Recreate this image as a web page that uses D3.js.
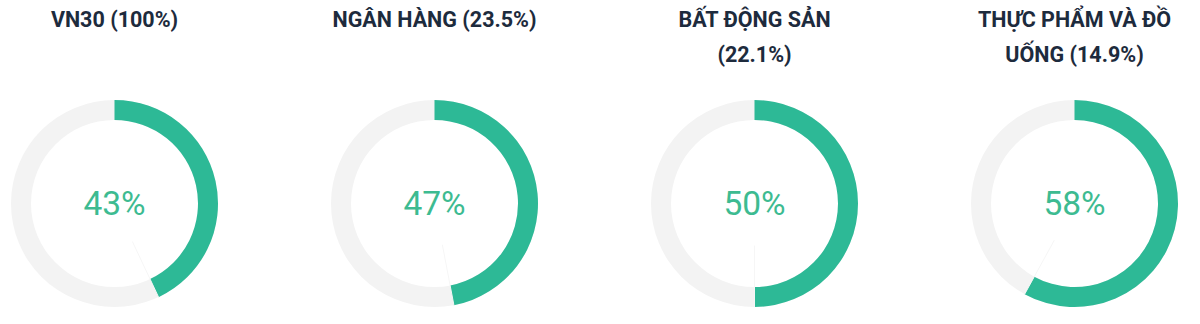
<!DOCTYPE html>
<html>
<head>
<meta charset="utf-8">
<script src="https://cdn.jsdelivr.net/npm/d3@7"></script>
<style>
    body { margin: 0; background: #fff; }
    svg { display: block; }
</style>
</head>
<body>
<div id="chart"></div>
<script>
// chart data
var titles = ["VN30 (100%)", "NGÂN HÀNG (23.5%)", "BẤT ĐỘNG SẢN (22.1%)", "THỰC PHẨM VÀ ĐỒ UỐNG (14.9%)"];
var percents = [43, 47, 50, 58];

var width = 1200, height = 324;
var outerR = 103.5, innerR = 83.5;
var cy = 203.5;

var svg = d3.select("#chart")
    .append("svg")
    .attr("width", width)
    .attr("height", height);

// one gauge per category, centers spread evenly
var x = d3.scalePoint()
    .domain(titles)
    .range([114.5, 1074.5]);

var angle = d3.scaleLinear()
    .domain([0, 100])
    .range([0, 2 * Math.PI]);

var arc = d3.arc()
    .innerRadius(innerR)
    .outerRadius(outerR)
    .startAngle(0);

var data = titles.map(function(t, i){ return { title: t, value: percents[i] }; });

var g = svg.selectAll(".gauge")
    .data(data)
    .join("g")
    .attr("class", "gauge")
    .attr("transform", function(d){ return `translate(${x(d.title)},0)`; });

// title, wrapped at ~220px
g.append("text")
    .attr("class", "title")
    .attr("text-anchor", "middle")
    .attr("font-family", "Roboto, sans-serif")
    .attr("font-weight", "bold")
    .attr("font-size", 21.5)
    .attr("fill", "#1d2b3d")
    .each(function(d){
        var text = d3.select(this);
        var words = d.title.split(" ");
        var line = [];
        var lineNo = 0;
        var tspan = text.append("tspan").attr("x", 0).attr("y", 27);
        words.forEach(function(w){
            line.push(w);
            tspan.text(line.join(" "));
            if (tspan.node().getComputedTextLength() > 220 && line.length > 1) {
                line.pop();
                tspan.text(line.join(" "));
                line = [w];
                lineNo++;
                tspan = text.append("tspan").attr("x", 0).attr("y", 27 + lineNo * 35).text(w);
            }
        });
    });

var ring = g.append("g").attr("transform", `translate(0,${cy})`);

// gray track
ring.append("path")
    .attr("d", function(){ return arc({ endAngle: 2 * Math.PI }); })
    .attr("fill", "#f3f3f3");

// value arc
ring.append("path")
    .attr("d", function(d){ return arc({ endAngle: angle(d.value) }); })
    .attr("fill", "#2db996");

// faint separator at arc end
ring.append("line")
    .attr("x1", function(d){ return 42 * Math.sin(angle(d.value)); })
    .attr("y1", function(d){ return -42 * Math.cos(angle(d.value)); })
    .attr("x2", function(d){ return outerR * Math.sin(angle(d.value)); })
    .attr("y2", function(d){ return -outerR * Math.cos(angle(d.value)); })
    .attr("stroke", "#f6f6f6")
    .attr("stroke-width", 1);

ring.append("text")
    .attr("text-anchor", "middle")
    .attr("dy", "0.35em")
    .attr("font-family", "Roboto, sans-serif")
    .attr("font-weight", 400)
    .attr("font-size", 33.5)
    .attr("fill", "#3dbb91")
    .text(function(d){ return d.value + "%"; });
</script>
</body>
</html>
